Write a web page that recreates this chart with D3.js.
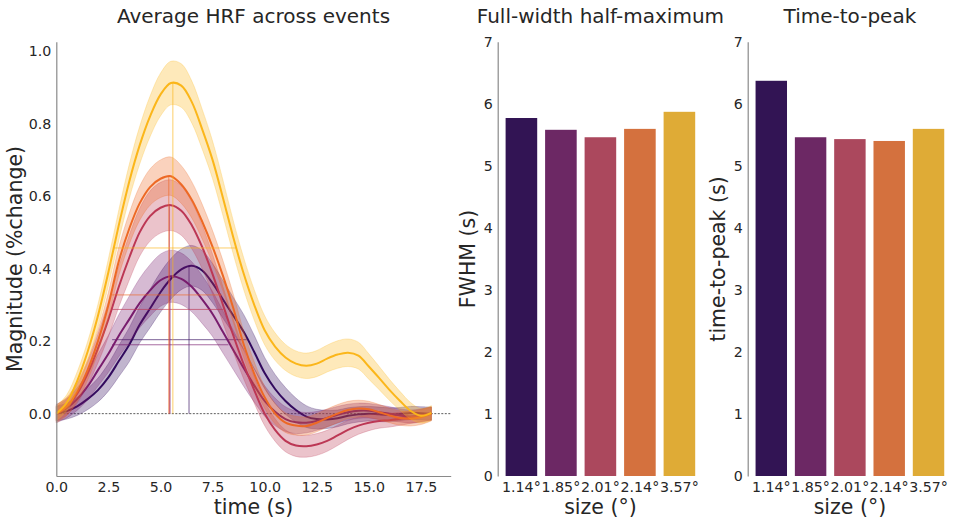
<!DOCTYPE html>
<html>
<head>
<meta charset="utf-8">
<title>HRF by stimulus size</title>
<script src="https://cdn.jsdelivr.net/npm/d3@7/dist/d3.min.js"></script>
<style>
    body { margin: 0; background: #fff; }
    text { font-family: "DejaVu Sans", sans-serif; fill: #262626; }
    .tick text { font-size: 14.2px; }
    .axis path.domain { stroke: #8a8a8a; stroke-width: 1.2px; }
    .title { font-size: 20px; text-anchor: middle; }
    .label { font-size: 20.5px; text-anchor: middle; }
</style>
</head>
<body>
<script>

// sizes (categories)
var sizes = ["1.14°", "1.85°", "2.01°", "2.14°", "3.57°"];

// seaborn inferno, 5 colours
var colors = ["#320a5e", "#781c6d", "#bc3754", "#ed6925", "#fbb61a"];

// time axis of the HRF (s)
var time = [0, 0.5, 1, 1.5, 2, 2.5, 3, 3.5, 4, 4.5, 5, 5.5, 6, 6.5, 7, 7.5, 8, 8.5, 9, 9.5,
            10, 10.5, 11, 11.5, 12, 12.5, 13, 13.5, 14, 14.5, 15, 15.5, 16, 16.5, 17, 17.5, 18];

// mean HRF per size (%change)
var hrf114 = [0, 0.007, 0.02, 0.04, 0.065, 0.1, 0.145, 0.19, 0.245, 0.29, 0.335, 0.372, 0.398, 0.408, 0.395, 0.36, 0.315, 0.27, 0.225, 0.17,
              0.112, 0.068, 0.035, 0.01, -0.008, -0.015, -0.016, -0.013, -0.006, -0.002, 0.0, -0.002, -0.003, -0.001, 0.002, 0.001, 0];
var hrf185 = [0, 0.015, 0.04, 0.075, 0.12, 0.165, 0.215, 0.26, 0.305, 0.34, 0.368, 0.379, 0.372, 0.35, 0.315, 0.275, 0.225, 0.175, 0.125, 0.078,
              0.035, 0.005, -0.015, -0.024, -0.025, -0.02, -0.012, -0.003, 0.004, 0.008, 0.008, 0.004, 0.0, -0.005, -0.008, -0.005, 0];
var hrf201 = [0, 0.018, 0.055, 0.11, 0.18, 0.26, 0.35, 0.43, 0.5, 0.545, 0.568, 0.575, 0.56, 0.52, 0.46, 0.385, 0.30, 0.215, 0.135, 0.065,
              0.0, -0.045, -0.075, -0.088, -0.09, -0.085, -0.075, -0.06, -0.045, -0.033, -0.025, -0.02, -0.018, -0.014, -0.01, -0.005, 0];
var hrf214 = [0, 0.02, 0.06, 0.12, 0.2, 0.3, 0.42, 0.51, 0.58, 0.625, 0.648, 0.655, 0.632, 0.59, 0.53, 0.46, 0.38, 0.29, 0.19, 0.11,
              0.045, 0.0, -0.025, -0.033, -0.034, -0.025, -0.012, 0.0, 0.01, 0.014, 0.012, 0.004, -0.005, -0.012, -0.014, -0.01, 0];
var hrf357 = [0, 0.03, 0.09, 0.17, 0.27, 0.39, 0.52, 0.64, 0.74, 0.82, 0.88, 0.912, 0.905, 0.86, 0.785, 0.70, 0.595, 0.485, 0.385, 0.30,
              0.23, 0.185, 0.155, 0.138, 0.132, 0.138, 0.152, 0.163, 0.168, 0.16, 0.13, 0.098, 0.065, 0.035, 0.008, -0.006, 0.002];

// half width of the shaded error band
var err114 = [0.02, 0.022, 0.025, 0.029, 0.033, 0.038, 0.043, 0.047, 0.05, 0.053, 0.055, 0.056, 0.056, 0.056, 0.055, 0.054, 0.052, 0.05, 0.048, 0.046,
              0.043, 0.04, 0.037, 0.033, 0.03, 0.027, 0.025, 0.023, 0.022, 0.021, 0.02, 0.02, 0.019, 0.018, 0.018, 0.018, 0.018];
var err185 = [0.025, 0.027, 0.031, 0.037, 0.044, 0.051, 0.058, 0.064, 0.068, 0.071, 0.072, 0.072, 0.071, 0.069, 0.066, 0.062, 0.058, 0.054, 0.05, 0.046,
              0.042, 0.038, 0.034, 0.031, 0.028, 0.026, 0.024, 0.023, 0.022, 0.021, 0.02, 0.02, 0.019, 0.018, 0.018, 0.018, 0.018];
var err201 = [0.02, 0.022, 0.026, 0.032, 0.04, 0.048, 0.056, 0.062, 0.066, 0.069, 0.07, 0.07, 0.068, 0.065, 0.06, 0.055, 0.05, 0.045, 0.04, 0.036,
              0.033, 0.031, 0.03, 0.03, 0.03, 0.03, 0.029, 0.028, 0.026, 0.024, 0.022, 0.02, 0.019, 0.018, 0.017, 0.017, 0.017];
var err214 = [0.025, 0.025, 0.026, 0.028, 0.031, 0.035, 0.039, 0.043, 0.047, 0.05, 0.052, 0.053, 0.052, 0.05, 0.048, 0.045, 0.042, 0.039, 0.036, 0.033,
              0.03, 0.028, 0.027, 0.026, 0.025, 0.025, 0.025, 0.025, 0.024, 0.023, 0.022, 0.021, 0.02, 0.02, 0.02, 0.02, 0.02];
var err357 = [0.02, 0.022, 0.025, 0.028, 0.032, 0.037, 0.042, 0.047, 0.052, 0.056, 0.059, 0.06, 0.06, 0.058, 0.055, 0.052, 0.049, 0.046, 0.044, 0.042,
              0.04, 0.038, 0.036, 0.035, 0.035, 0.036, 0.037, 0.038, 0.038, 0.037, 0.035, 0.032, 0.029, 0.026, 0.023, 0.02, 0.02];

// peak magnitude, and where the half-max line was drawn
var peakMag = [0.408, 0.38, 0.575, 0.655, 0.914];
var hmStart = [2.68, 2.68, 2.68, 2.68, 2.72];
var hmEnd = [9.14, 8.26, 8.02, 7.94, 8.63];

// bar values (s)
var fwhm = [5.77, 5.58, 5.46, 5.595, 5.87];
var ttp = [6.37, 5.46, 5.43, 5.40, 5.595];

var xTicks = [0, 2.5, 5, 7.5, 10, 12.5, 15, 17.5];
var yTicks = [0, 0.2, 0.4, 0.6, 0.8, 1.0];
var barTicks = [0, 1, 2, 3, 4, 5, 6, 7];

var means = [hrf114, hrf185, hrf201, hrf214, hrf357];
var errs = [err114, err185, err201, err214, err357];

var width = 955,
    height = 524;

var svg = d3.select("body").append("svg")
    .attr("width", width)
    .attr("height", height);

// ---------- HRF panel ----------
var x = d3.scaleLinear().domain([0, 18.93]).range([56.3, 450.7]);
var y = d3.scaleLinear().domain([-0.172, 1.026]).range([476, 41.7]);

var g1 = svg.append("g");

var line = d3.line()
    .x(function (d) { return x(d.t); })
    .y(function (d) { return y(d.m); })
    .curve(d3.curveCatmullRom.alpha(0.5));

var area = d3.area()
    .x(function (d) { return x(d.t); })
    .y0(function (d) { return y(d.m - d.e); })
    .y1(function (d) { return y(d.m + d.e); })
    .curve(d3.curveCatmullRom.alpha(0.5));

// zero line
g1.append("line")
    .attr("x1", x.range()[0]).attr("x2", x.range()[1])
    .attr("y1", y(0)).attr("y2", y(0))
    .attr("stroke", "#333")
    .attr("stroke-width", 0.8)
    .attr("stroke-dasharray", "2,1.5");

sizes.forEach(function (s, i) {
    var pts = time.map(function (t, k) { return {t: t, m: means[i][k], e: errs[i][k]}; });

    g1.append("path")
        .datum(pts)
        .attr("d", area)
        .attr("fill", colors[i])
        .attr("fill-opacity", 0.3)
        .attr("stroke", colors[i])
        .attr("stroke-opacity", 0.25)
        .attr("stroke-width", 1);

    g1.append("path")
        .datum(pts)
        .attr("d", line)
        .attr("fill", "none")
        .attr("stroke", colors[i])
        .attr("stroke-width", 2);

    // time to peak marker
    g1.append("line")
        .attr("x1", x(ttp[i])).attr("x2", x(ttp[i]))
        .attr("y1", y(0)).attr("y2", y(peakMag[i]))
        .attr("stroke", colors[i])
        .attr("stroke-opacity", 0.65)
        .attr("stroke-width", 1);

    // half maximum marker
    g1.append("line")
        .attr("x1", x(hmStart[i])).attr("x2", x(hmEnd[i]))
        .attr("y1", y(peakMag[i] / 2)).attr("y2", y(peakMag[i] / 2))
        .attr("stroke", colors[i])
        .attr("stroke-opacity", 0.65)
        .attr("stroke-width", 1);
});

g1.append("g")
    .attr("class", "axis")
    .attr("transform", "translate(0," + y.range()[0] + ")")
    .call(d3.axisBottom(x).tickValues(xTicks).tickFormat(d3.format(".1f")).tickSize(0).tickPadding(6));

g1.append("g")
    .attr("class", "axis")
    .attr("transform", "translate(" + x.range()[0] + ",0)")
    .call(d3.axisLeft(y).tickValues(yTicks).tickFormat(d3.format(".1f")).tickSize(0).tickPadding(5));

g1.append("text").attr("class", "title").attr("x", 253.5).attr("y", 23).text("Average HRF across events");
g1.append("text").attr("class", "label").attr("x", 253.5).attr("y", 514).text("time (s)");
g1.append("text").attr("class", "label")
    .attr("transform", "translate(22,259) rotate(-90)")
    .text("Magnitude (%change)");

// ---------- bar panels ----------
function barPanel(left, right, values, title, ylab, labX) {
    var xb = d3.scaleBand().domain(sizes).range([left, right]).paddingInner(0.2).paddingOuter(0.2);
    var yb = d3.scaleLinear().domain([0, 7]).range([476, 41.7]);
    var g = svg.append("g");

    g.selectAll("rect")
        .data(values).enter()
        .append("rect")
        .attr("x", function (d, i) { return xb(sizes[i]); })
        .attr("width", xb.bandwidth())
        .attr("y", function (d) { return yb(d); })
        .attr("height", function (d) { return yb(0) - yb(d); })
        .attr("fill", function (d, i) {
            var c = d3.hsl(colors[i]);
            c.s = c.s * 0.75;
            return c.formatHex();
        });

    g.append("g")
        .attr("class", "axis")
        .attr("transform", "translate(0,476)")
        .call(d3.axisBottom(xb).tickSize(0).tickPadding(6))
        .select(".domain").remove();

    g.append("g")
        .attr("class", "axis")
        .attr("transform", "translate(" + left + ",0)")
        .call(d3.axisLeft(yb).tickValues(barTicks).tickFormat(d3.format("d")).tickSize(0).tickPadding(5));

    var cx = (left + right) / 2;
    g.append("text").attr("class", "title").attr("x", cx).attr("y", 23).text(title);
    g.append("text").attr("class", "label").attr("x", cx).attr("y", 514).text("size (°)");
    g.append("text").attr("class", "label")
        .attr("transform", "translate(" + labX + ",259) rotate(-90)")
        .text(ylab);
}

barPanel(497.7, 703.1, fwhm, "Full-width half-maximum", "FWHM (s)", 475);
barPanel(747.7, 952.1, ttp, "Time-to-peak", "time-to-peak (s)", 725);

</script>
</body>
</html>
